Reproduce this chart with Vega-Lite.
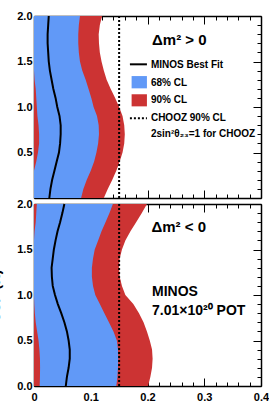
{
  "$schema": "https://vega.github.io/schema/vega-lite/v6.json",
  "background": "white",
  "padding": {"left": -12, "top": 10, "right": 0, "bottom": 0},
  "bounds": "flush",
  "spacing": 6,
  "config": {
    "view": {"stroke": null},
    "font": "Liberation Sans",
    "axis": {
      "grid": false, "tickColor": "black", "tickWidth": 1, "domainColor": "black", "domainWidth": 1.5,
      "labelFont": "Liberation Sans", "labelFontWeight": "bold", "labelFontSize": 11, "labelColor": "black",
      "labelFlush": false, "labelOverlap": false, "labelBound": false, "zindex": 1, "minExtent": 0, "maxExtent": 200
    }
  },
  "datasets": {
    "pos": [
      {"d": 0.0, "lo68": 0, "hi68": 0.083, "lo90": 0, "hi90": 0.123, "best": 0.027},
      {"d": 0.1, "lo68": 0, "hi68": 0.087, "lo90": 0, "hi90": 0.130, "best": 0.029},
      {"d": 0.2, "lo68": 0, "hi68": 0.093, "lo90": 0, "hi90": 0.138, "best": 0.032},
      {"d": 0.3, "lo68": 0, "hi68": 0.100, "lo90": 0, "hi90": 0.145, "best": 0.036},
      {"d": 0.4, "lo68": 0.004, "hi68": 0.106, "lo90": 0, "hi90": 0.151, "best": 0.040},
      {"d": 0.5, "lo68": 0.007, "hi68": 0.110, "lo90": 0, "hi90": 0.156, "best": 0.044},
      {"d": 0.6, "lo68": 0.009, "hi68": 0.113, "lo90": 0, "hi90": 0.159, "best": 0.046},
      {"d": 0.7, "lo68": 0.009, "hi68": 0.1145, "lo90": 0, "hi90": 0.160, "best": 0.047},
      {"d": 0.8, "lo68": 0.008, "hi68": 0.114, "lo90": 0, "hi90": 0.159, "best": 0.047},
      {"d": 0.9, "lo68": 0.006, "hi68": 0.111, "lo90": 0, "hi90": 0.156, "best": 0.045},
      {"d": 1.0, "lo68": 0.005, "hi68": 0.105, "lo90": 0, "hi90": 0.150, "best": 0.041},
      {"d": 1.1, "lo68": 0.004, "hi68": 0.101, "lo90": 0, "hi90": 0.143, "best": 0.038},
      {"d": 1.2, "lo68": 0.003, "hi68": 0.096, "lo90": 0, "hi90": 0.135, "best": 0.034},
      {"d": 1.3, "lo68": 0.001, "hi68": 0.091, "lo90": 0, "hi90": 0.128, "best": 0.031},
      {"d": 1.4, "lo68": 0, "hi68": 0.085, "lo90": 0, "hi90": 0.123, "best": 0.028},
      {"d": 1.5, "lo68": 0, "hi68": 0.081, "lo90": 0, "hi90": 0.119, "best": 0.026},
      {"d": 1.6, "lo68": 0, "hi68": 0.079, "lo90": 0, "hi90": 0.116, "best": 0.025},
      {"d": 1.7, "lo68": 0, "hi68": 0.078, "lo90": 0, "hi90": 0.1145, "best": 0.024},
      {"d": 1.8, "lo68": 0, "hi68": 0.078, "lo90": 0, "hi90": 0.114, "best": 0.024},
      {"d": 1.9, "lo68": 0, "hi68": 0.079, "lo90": 0, "hi90": 0.116, "best": 0.025},
      {"d": 2.0, "lo68": 0, "hi68": 0.081, "lo90": 0, "hi90": 0.120, "best": 0.026}
    ],
    "neg": [
      {"d": 0.0, "lo68": 0.010, "hi68": 0.145, "lo90": 0, "hi90": 0.201, "best": 0.056},
      {"d": 0.1, "lo68": 0.0105, "hi68": 0.147, "lo90": 0, "hi90": 0.205, "best": 0.058},
      {"d": 0.2, "lo68": 0.0107, "hi68": 0.148, "lo90": 0, "hi90": 0.208, "best": 0.061},
      {"d": 0.3, "lo68": 0.0105, "hi68": 0.1485, "lo90": 0, "hi90": 0.209, "best": 0.063},
      {"d": 0.4, "lo68": 0.0095, "hi68": 0.148, "lo90": 0, "hi90": 0.208, "best": 0.063},
      {"d": 0.5, "lo68": 0.008, "hi68": 0.146, "lo90": 0, "hi90": 0.204, "best": 0.061},
      {"d": 0.6, "lo68": 0.0055, "hi68": 0.140, "lo90": 0, "hi90": 0.199, "best": 0.058},
      {"d": 0.7, "lo68": 0.003, "hi68": 0.132, "lo90": 0, "hi90": 0.193, "best": 0.0535},
      {"d": 0.8, "lo68": 0.0015, "hi68": 0.124, "lo90": 0, "hi90": 0.185, "best": 0.048},
      {"d": 0.9, "lo68": 0.0005, "hi68": 0.116, "lo90": 0, "hi90": 0.175, "best": 0.042},
      {"d": 1.0, "lo68": 0, "hi68": 0.108, "lo90": 0, "hi90": 0.161, "best": 0.037},
      {"d": 1.1, "lo68": 0, "hi68": 0.104, "lo90": 0, "hi90": 0.155, "best": 0.033},
      {"d": 1.2, "lo68": 0, "hi68": 0.102, "lo90": 0, "hi90": 0.151, "best": 0.0315},
      {"d": 1.3, "lo68": 0, "hi68": 0.102, "lo90": 0, "hi90": 0.150, "best": 0.031},
      {"d": 1.4, "lo68": 0, "hi68": 0.104, "lo90": 0, "hi90": 0.151, "best": 0.033},
      {"d": 1.5, "lo68": 0, "hi68": 0.107, "lo90": 0, "hi90": 0.155, "best": 0.035},
      {"d": 1.6, "lo68": 0, "hi68": 0.113, "lo90": 0, "hi90": 0.161, "best": 0.038},
      {"d": 1.7, "lo68": 0.001, "hi68": 0.119, "lo90": 0, "hi90": 0.170, "best": 0.0415},
      {"d": 1.8, "lo68": 0.003, "hi68": 0.126, "lo90": 0, "hi90": 0.180, "best": 0.046},
      {"d": 1.9, "lo68": 0.004, "hi68": 0.133, "lo90": 0, "hi90": 0.190, "best": 0.050},
      {"d": 2.0, "lo68": 0.005, "hi68": 0.139, "lo90": 0, "hi90": 0.199, "best": 0.0535}
    ],
    "chooz": [{"x": 0.15}],
    "legline": [{"x": 0.169, "x2": 0.199, "y": 1.469}],
    "legdot": [{"x": 0.169, "x2": 0.199, "y": 0.876}],
    "legbox": [
      {"x": 0.172, "x2": 0.199, "y": 1.205, "y2": 1.34, "k": "68% CL"},
      {"x": 0.172, "x2": 0.199, "y": 1.007, "y2": 1.14, "k": "90% CL"}
    ],
    "legtext": [
      {"x": 0.206, "y": 1.465, "t": "MINOS Best Fit"},
      {"x": 0.206, "y": 1.264, "t": "68% CL"},
      {"x": 0.206, "y": 1.077, "t": "90% CL"},
      {"x": 0.206, "y": 0.876, "t": "CHOOZ 90% CL"},
      {"x": 0.206, "y": 0.703, "t": "2sin²θ₂₃=1 for CHOOZ"}
    ],
    "headpos": [{"x": 0.208, "y": 1.733, "t": "Δm² > 0"}],
    "headneg": [{"x": 0.207, "y": 1.747, "t": "Δm² < 0"}],
    "minos": [
      {"x": 0.208, "y": 1.03, "t": "MINOS"},
      {"x": 0.208, "y": 0.824, "t": "7.01×10²⁰ POT"}
    ]
  },
  "vconcat": [
    {
      "width": 227, "height": 182,
      "resolve": {"axis": {"x": "independent", "y": "independent"}},
      "layer": [
        {
          "data": {"name": "pos"},
          "mark": {"type": "area", "orient": "horizontal", "color": "#cc3333", "opacity": 1},
          "encoding": {
            "x": {"field": "lo90", "type": "quantitative", "scale": {"domain": [0, 0.4], "nice": false, "zero": false},
                  "axis": {"orient": "bottom", "values": [0, 0.1, 0.2, 0.3, 0.4], "tickSize": -8, "domain": true, "labels": false, "title": null}},
            "x2": {"field": "hi90"},
            "y": {"field": "d", "type": "quantitative", "scale": {"domain": [0, 2], "nice": false, "zero": false},
                  "axis": {"orient": "left", "values": [0.5, 1, 1.5, 2], "tickSize": -8, "domain": true, "format": ".1f", "labelPadding": 10, "labelOverlap": false, "title": null}}
          }
        },
        {
          "data": {"name": "pos"},
          "mark": {"type": "area", "orient": "horizontal", "color": "#6199f7", "opacity": 1},
          "encoding": {
            "x": {"field": "lo68", "type": "quantitative", "scale": {"domain": [0, 0.4], "nice": false, "zero": false},
                  "axis": {"orient": "bottom", "values": [0.02, 0.04, 0.06, 0.08, 0.12, 0.14, 0.16, 0.18, 0.22, 0.24, 0.26, 0.28, 0.32, 0.34, 0.36, 0.38], "tickSize": -4, "domain": false, "labels": false, "title": null}},
            "x2": {"field": "hi68"},
            "y": {"field": "d", "type": "quantitative", "scale": {"domain": [0, 2], "nice": false, "zero": false},
                  "axis": {"orient": "left", "values": [0.1, 0.2, 0.3, 0.4, 0.6, 0.7, 0.8, 0.9, 1.1, 1.2, 1.3, 1.4, 1.6, 1.7, 1.8, 1.9], "tickSize": -4, "domain": false, "labels": false, "title": null}}
          }
        },
        {
          "data": {"name": "pos"},
          "mark": {"type": "line", "color": "black", "strokeWidth": 2},
          "encoding": {
            "x": {"field": "best", "type": "quantitative", "scale": {"domain": [0, 0.4], "nice": false, "zero": false},
                  "axis": {"orient": "top", "values": [0, 0.1, 0.2, 0.3, 0.4], "tickSize": -8, "domain": true, "labels": false, "title": null}},
            "y": {"field": "d", "type": "quantitative", "scale": {"domain": [0, 2], "nice": false, "zero": false},
                  "axis": {"orient": "right", "values": [0, 0.5, 1, 1.5, 2], "tickSize": -8, "domain": true, "labels": false, "title": null}},
            "order": {"field": "d", "type": "quantitative"}
          }
        },
        {
          "data": {"name": "chooz"},
          "mark": {"type": "rule", "color": "black", "strokeWidth": 2, "strokeDash": [2, 2]},
          "encoding": {
            "x": {"field": "x", "type": "quantitative", "scale": {"domain": [0, 0.4], "nice": false, "zero": false},
                  "axis": {"orient": "top", "values": [0.02, 0.04, 0.06, 0.08, 0.12, 0.14, 0.16, 0.18, 0.22, 0.24, 0.26, 0.28, 0.32, 0.34, 0.36, 0.38], "tickSize": -4, "domain": false, "labels": false, "title": null}}
          }
        },
        {
          "data": {"name": "legline"},
          "mark": {"type": "rule", "color": "black", "strokeWidth": 2},
          "encoding": {
            "x": {"field": "x", "type": "quantitative", "scale": {"domain": [0, 0.4], "nice": false, "zero": false}, "axis": null},
            "x2": {"field": "x2"},
            "y": {"field": "y", "type": "quantitative", "scale": {"domain": [0, 2], "nice": false, "zero": false},
                  "axis": {"orient": "right", "values": [0.1, 0.2, 0.3, 0.4, 0.6, 0.7, 0.8, 0.9, 1.1, 1.2, 1.3, 1.4, 1.6, 1.7, 1.8, 1.9], "tickSize": -4, "domain": false, "labels": false, "title": null}}
          }
        },
        {
          "data": {"name": "legdot"},
          "mark": {"type": "rule", "color": "black", "strokeWidth": 2, "strokeDash": [2, 2]},
          "encoding": {
            "x": {"field": "x", "type": "quantitative", "scale": {"domain": [0, 0.4], "nice": false, "zero": false}, "axis": null},
            "x2": {"field": "x2"},
            "y": {"field": "y", "type": "quantitative", "scale": {"domain": [0, 2], "nice": false, "zero": false}, "axis": null}
          }
        },
        {
          "data": {"name": "legbox"},
          "mark": {"type": "rect", "opacity": 1},
          "encoding": {
            "x": {"field": "x", "type": "quantitative", "scale": {"domain": [0, 0.4], "nice": false, "zero": false}, "axis": null},
            "x2": {"field": "x2"},
            "y": {"field": "y", "type": "quantitative", "scale": {"domain": [0, 2], "nice": false, "zero": false}, "axis": null},
            "y2": {"field": "y2"},
            "color": {"field": "k", "type": "nominal", "scale": {"domain": ["68% CL", "90% CL"], "range": ["#6199f7", "#cc3333"]}, "legend": null}
          }
        },
        {
          "data": {"name": "legtext"},
          "mark": {"type": "text", "align": "left", "baseline": "middle", "font": "Liberation Sans", "fontWeight": "bold", "fontSize": 10, "color": "black"},
          "encoding": {
            "x": {"field": "x", "type": "quantitative", "scale": {"domain": [0, 0.4], "nice": false, "zero": false}, "axis": null},
            "y": {"field": "y", "type": "quantitative", "scale": {"domain": [0, 2], "nice": false, "zero": false}, "axis": null},
            "text": {"field": "t"}
          }
        },
        {
          "data": {"name": "headpos"},
          "mark": {"type": "text", "align": "left", "baseline": "middle", "font": "Liberation Sans", "fontWeight": "bold", "fontSize": 15, "color": "black"},
          "encoding": {
            "x": {"field": "x", "type": "quantitative", "scale": {"domain": [0, 0.4], "nice": false, "zero": false}, "axis": null},
            "y": {"field": "y", "type": "quantitative", "scale": {"domain": [0, 2], "nice": false, "zero": false}, "axis": null},
            "text": {"field": "t"}
          }
        }
      ]
    },
    {
      "width": 227, "height": 182,
      "resolve": {"axis": {"x": "independent", "y": "independent"}},
      "layer": [
        {
          "data": {"name": "neg"},
          "mark": {"type": "area", "orient": "horizontal", "color": "#cc3333", "opacity": 1},
          "encoding": {
            "x": {"field": "lo90", "type": "quantitative", "scale": {"domain": [0, 0.4], "nice": false, "zero": false},
                  "axis": {"orient": "bottom", "values": [0, 0.1, 0.2, 0.3, 0.4], "tickSize": -8, "domain": true, "labels": true, "labelExpr": "datum.value === 0 ? '0' : format(datum.value, '.1f')", "labelPadding": 13, "labelOverlap": false, "title": null}},
            "x2": {"field": "hi90"},
            "y": {"field": "d", "type": "quantitative", "scale": {"domain": [0, 2], "nice": false, "zero": false},
                  "axis": {"orient": "left", "values": [0, 0.5, 1, 1.5, 2], "tickSize": -8, "domain": true, "format": ".1f", "labelPadding": 10, "labelOverlap": false,
                           "title": "δCP (π)", "titleFont": "Liberation Sans", "titleFontSize": 14, "titleFontWeight": "bold", "titleColor": "black", "titleAngle": -90, "titleBaseline": "alphabetic", "titleAlign": "center", "titleX": -35, "titleY": 91}}
          }
        },
        {
          "data": {"name": "neg"},
          "mark": {"type": "area", "orient": "horizontal", "color": "#6199f7", "opacity": 1},
          "encoding": {
            "x": {"field": "lo68", "type": "quantitative", "scale": {"domain": [0, 0.4], "nice": false, "zero": false},
                  "axis": {"orient": "bottom", "values": [0.02, 0.04, 0.06, 0.08, 0.12, 0.14, 0.16, 0.18, 0.22, 0.24, 0.26, 0.28, 0.32, 0.34, 0.36, 0.38], "tickSize": -4, "domain": false, "labels": false, "title": null}},
            "x2": {"field": "hi68"},
            "y": {"field": "d", "type": "quantitative", "scale": {"domain": [0, 2], "nice": false, "zero": false},
                  "axis": {"orient": "left", "values": [0.1, 0.2, 0.3, 0.4, 0.6, 0.7, 0.8, 0.9, 1.1, 1.2, 1.3, 1.4, 1.6, 1.7, 1.8, 1.9], "tickSize": -4, "domain": false, "labels": false, "title": null}}
          }
        },
        {
          "data": {"name": "neg"},
          "mark": {"type": "line", "color": "black", "strokeWidth": 2},
          "encoding": {
            "x": {"field": "best", "type": "quantitative", "scale": {"domain": [0, 0.4], "nice": false, "zero": false},
                  "axis": {"orient": "top", "values": [0, 0.1, 0.2, 0.3, 0.4], "tickSize": -8, "domain": true, "labels": false, "title": null}},
            "y": {"field": "d", "type": "quantitative", "scale": {"domain": [0, 2], "nice": false, "zero": false},
                  "axis": {"orient": "right", "values": [0, 0.5, 1, 1.5, 2], "tickSize": -8, "domain": true, "labels": false, "title": null}},
            "order": {"field": "d", "type": "quantitative"}
          }
        },
        {
          "data": {"name": "chooz"},
          "mark": {"type": "rule", "color": "black", "strokeWidth": 2, "strokeDash": [2, 2]},
          "encoding": {
            "x": {"field": "x", "type": "quantitative", "scale": {"domain": [0, 0.4], "nice": false, "zero": false},
                  "axis": {"orient": "top", "values": [0.02, 0.04, 0.06, 0.08, 0.12, 0.14, 0.16, 0.18, 0.22, 0.24, 0.26, 0.28, 0.32, 0.34, 0.36, 0.38], "tickSize": -4, "domain": false, "labels": false, "title": null}}
          }
        },
        {
          "data": {"name": "minos"},
          "mark": {"type": "text", "align": "left", "baseline": "middle", "font": "Liberation Sans", "fontWeight": "bold", "fontSize": 14, "color": "black"},
          "encoding": {
            "x": {"field": "x", "type": "quantitative", "scale": {"domain": [0, 0.4], "nice": false, "zero": false}, "axis": null},
            "y": {"field": "y", "type": "quantitative", "scale": {"domain": [0, 2], "nice": false, "zero": false},
                  "axis": {"orient": "right", "values": [0.1, 0.2, 0.3, 0.4, 0.6, 0.7, 0.8, 0.9, 1.1, 1.2, 1.3, 1.4, 1.6, 1.7, 1.8, 1.9], "tickSize": -4, "domain": false, "labels": false, "title": null}},
            "text": {"field": "t"}
          }
        },
        {
          "data": {"name": "headneg"},
          "mark": {"type": "text", "align": "left", "baseline": "middle", "font": "Liberation Sans", "fontWeight": "bold", "fontSize": 15, "color": "black"},
          "encoding": {
            "x": {"field": "x", "type": "quantitative", "scale": {"domain": [0, 0.4], "nice": false, "zero": false}, "axis": null},
            "y": {"field": "y", "type": "quantitative", "scale": {"domain": [0, 2], "nice": false, "zero": false}, "axis": null},
            "text": {"field": "t"}
          }
        }
      ]
    }
  ]
}
